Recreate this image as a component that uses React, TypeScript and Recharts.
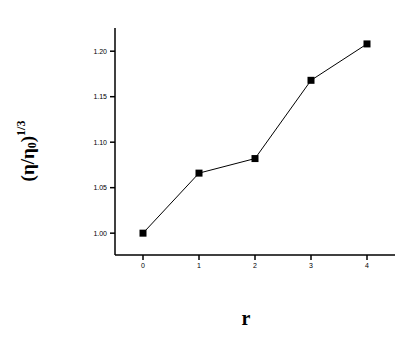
import React from "react";
import { LineChart, Line, XAxis, YAxis, Label } from "recharts";

const R_VALUES = [0, 1, 2, 3, 4];
const RATIO_VALUES = [1.0, 1.066, 1.082, 1.168, 1.208];
const Y_TICKS = [1.0, 1.05, 1.1, 1.15, 1.2];
const X_TICKS = [0, 1, 2, 3, 4];

const data = R_VALUES.map((r, i) => ({ r, value: RATIO_VALUES[i] }));

const SquareDot = (props: any) => {
  const { cx, cy } = props;
  if (cx == null || cy == null) return null;
  return <rect x={cx - 3.5} y={cy - 3.5} width={7} height={7} fill="#000" />;
};

const tickStyle = { fontSize: 7, fill: "#000", fontFamily: "Liberation Sans, Arial, sans-serif" };

export default function App() {
  return (
    <div style={{ position: "absolute", left: 0, top: 0, background: "#fff" }}>
      <LineChart
        width={410}
        height={338}
        data={data}
        margin={{ top: 28, right: 15, left: 0, bottom: 0 }}
      >
        <XAxis
          dataKey="r"
          type="number"
          domain={[-0.5, 4.5]}
          ticks={X_TICKS}
          tick={tickStyle}
          tickSize={5}
          tickMargin={3}
          height={83}
          stroke="#000"
          strokeWidth={1.5}
          allowDataOverflow
        >
          <Label
            content={() => (
              <text
                x={246}
                y={325}
                textAnchor="middle"
                fontFamily="Liberation Serif, Times New Roman, serif"
                fontWeight="bold"
                fontSize={20}
                fill="#000"
              >
                r
              </text>
            )}
          />
        </XAxis>
        <YAxis
          type="number"
          domain={[0.976, 1.2255]}
          ticks={Y_TICKS}
          tickFormatter={(v: number) => v.toFixed(2)}
          tick={tickStyle}
          tickSize={5}
          tickMargin={3}
          width={115}
          stroke="#000"
          strokeWidth={1.5}
          allowDataOverflow
        >
          <Label
            content={() => (
              <text
                x={34}
                y={151}
                transform="rotate(-90 34 151)"
                textAnchor="middle"
                fontFamily="Liberation Serif, Times New Roman, serif"
                fontWeight="bold"
                fontSize={19}
                fill="#000"
              >
                (η/η
                <tspan fontSize={12} dy={2}>0</tspan>
                <tspan dy={-2}>)</tspan>
                <tspan fontSize={12} dy={-9}>1/3</tspan>
              </text>
            )}
          />
        </YAxis>
        <Line
          type="linear"
          dataKey="value"
          stroke="#000"
          strokeWidth={1}
          dot={<SquareDot />}
          activeDot={false}
          isAnimationActive={false}
        />
      </LineChart>
    </div>
  );
}
